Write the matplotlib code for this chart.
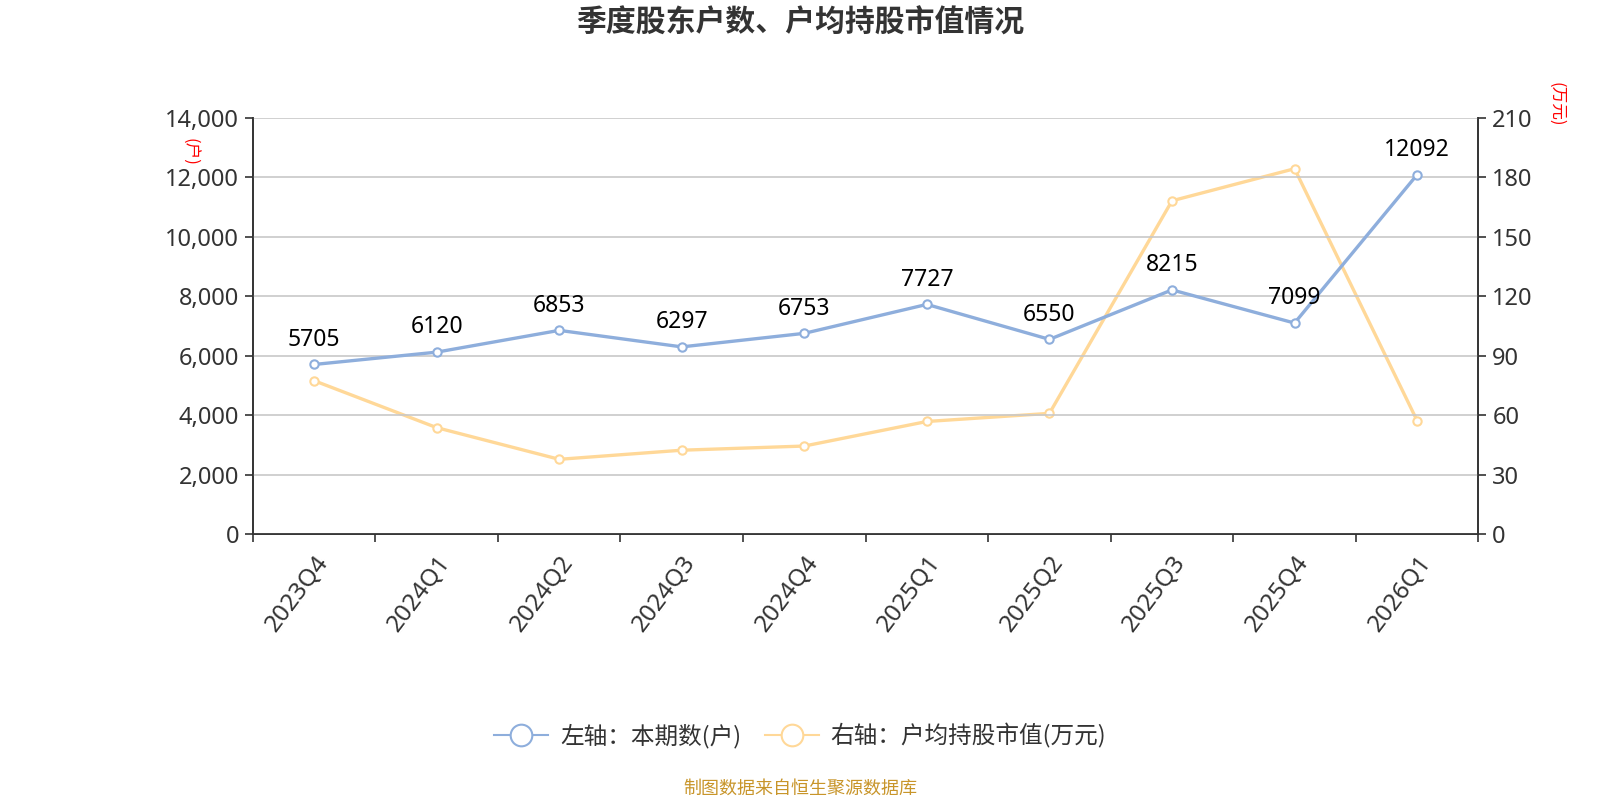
import matplotlib.pyplot as plt
from matplotlib.ticker import FuncFormatter, FixedLocator
import numpy as np

plt.rcParams['font.family'] = ['Noto Sans', 'Noto Sans CJK SC', 'DejaVu Sans']
plt.rcParams['axes.unicode_minus'] = False

# -------------------------------------------------
# 数据
# -------------------------------------------------
quarters = ['2023Q4', '2024Q1', '2024Q2', '2024Q3', '2024Q4',
            '2025Q1', '2025Q2', '2025Q3', '2025Q4', '2026Q1']
holders = [5705, 6120, 6853, 6297, 6753, 7727, 6550, 8215, 7099, 12092]
avg_value = [77.4, 53.7, 37.7, 42.3, 44.4, 56.8, 60.9, 168.2, 184.4, 57.2]

blue = '#8eaedc'
orange = '#ffd898'
axis_c = '#333333'
cjk = ['Noto Sans CJK SC', 'DejaVu Sans']

fig = plt.figure(figsize=(16, 8), dpi=100)
ax = fig.add_axes([0.158, 0.3325, 0.766, 0.52])
ax2 = ax.twinx()

x = np.arange(len(quarters))

l1, = ax.plot(x, holders, color=blue, lw=2.4, marker='o', ms=6,
              mfc='white', mec=blue, mew=1.5, zorder=3)
l2, = ax2.plot(x, avg_value, color=orange, lw=2.4, marker='o', ms=6,
               mfc='white', mec=orange, mew=1.5, zorder=3)
ax.set_zorder(ax2.get_zorder() + 1)
ax.patch.set_visible(False)

for xi, v in zip(x, holders):
    ax.annotate(str(v), (xi, v), xytext=(0, 13.5), textcoords='offset points',
                ha='center', va='baseline', fontsize=16.5, color='black')

# 坐标轴
ax.set_xlim(-0.5, len(quarters) - 0.5)
ax.set_ylim(0, 14000)
ax.set_yticks(np.arange(0, 14001, 2000))
ax.yaxis.set_major_formatter(FuncFormatter(lambda v, p: f'{int(v):,}'))
ax2.set_ylim(0, 210)
ax2.set_yticks(np.arange(0, 211, 30))

ax.set_xticks(x)
ax.set_xticklabels(quarters, rotation=53, ha='right', va='top',
                   rotation_mode='anchor', fontsize=17.5, color=axis_c)
ax.xaxis.set_minor_locator(FixedLocator(np.arange(-0.5, len(quarters), 1)))
ax.tick_params(axis='x', which='major', length=0, pad=12)
ax.tick_params(axis='x', which='minor', length=6, color=axis_c, width=1.2)
ax.tick_params(axis='y', labelsize=17, labelcolor=axis_c, length=6,
               color=axis_c, width=1.2, pad=4)
ax2.tick_params(axis='y', labelsize=17, labelcolor=axis_c, length=6,
                color=axis_c, width=1.2, pad=4)

ax.grid(axis='y', color='#c8c8c8', lw=1.2)
ax.set_axisbelow(True)
for a in (ax, ax2):
    a.spines['top'].set_visible(False)
    for s in ('left', 'right', 'bottom'):
        a.spines[s].set_color(axis_c)
        a.spines[s].set_linewidth(1.2)

# 单位标签
fig.text(0.118, 0.81, '(户)', color='red', fontsize=12, rotation=-90,
         ha='center', va='center', family=cjk)
fig.text(0.9725, 0.87, '(万元)', color='red', fontsize=12, rotation=-90,
         ha='center', va='center', family=cjk)

# 标题
fig.text(0.5, 0.972, '季度股东户数、户均持股市值情况', fontsize=21.5,
         fontweight='bold', color='#333333', ha='center', va='center',
         family=cjk)

# 图例
leg = fig.legend([l1, l2], ['左轴：本期数(户)', '右轴：户均持股市值(万元)'],
                 loc='center', bbox_to_anchor=(0.5, 0.08), ncol=2,
                 frameon=False, prop={'family': cjk, 'size': 17},
                 handlelength=2.3, columnspacing=1.0, handletextpad=0.5,
                 markerscale=2.6)
for t in leg.get_texts():
    t.set_color(axis_c)
for h in leg.legend_handles:
    h.set_linewidth(1.5)
    h.set_markeredgewidth(1.5)

# 来源
fig.text(0.5, 0.014, '制图数据来自恒生聚源数据库', fontsize=13,
         color='#c8952a', ha='center', va='center', family=cjk)

fig.savefig('out.png', dpi=100)
